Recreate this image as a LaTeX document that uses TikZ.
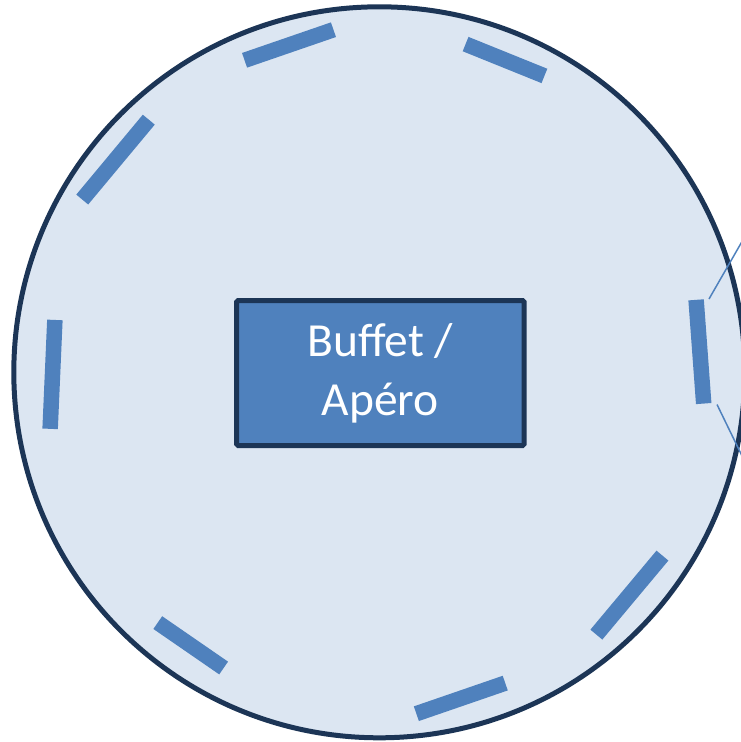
\documentclass[tikz,border=0pt]{standalone}
\usepackage{fontspec}
\setmainfont{Carlito}
\usepackage{tikz}
\definecolor{cnavy}{HTML}{1C3556}
\definecolor{cfloor}{HTML}{DCE6F2}
\definecolor{ctable}{HTML}{4F81BD}
\tikzset{
  tbl/.style={fill=ctable,minimum width=#1,minimum height=15.5pt,inner sep=0pt,outer sep=0pt},
  buffet/.style={fill=ctable,draw=cnavy,line width=5pt,rounded corners=1.5pt,minimum width=287.5pt,minimum height=145pt,
    align=center,text=white,font=\fontsize{47.5}{59}\selectfont},
  wire/.style={draw=ctable,line width=1.5pt}}

\begin{document}
\begin{tikzpicture}[x=1pt,y=-1pt]
\useasboundingbox (0,0) rectangle (741,742);
\clip (0,0) rectangle (741,742);

% ================= room =================
\fill[cfloor] (379.3,372.3) circle (365.5pt);
\draw[cnavy,line width=5pt] (379.3,372.3) circle (365.5pt);

% ================= tables round the wall =================
\node[tbl=94pt,rotate=19] (t1) at (289,45) {};
\node[tbl=85pt,rotate=-22] (t2) at (505,60) {};
\node[tbl=104pt,rotate=50.2] (t3) at (115.5,159.6) {};
\node[tbl=109pt,rotate=87.5] (t4) at (52.5,374.4) {};
\node[tbl=104pt,rotate=94.2] (t5) at (699.9,351.7) {};
\node[tbl=80pt,rotate=-34.6] (t6) at (190.7,645.3) {};
\node[tbl=94pt,rotate=19] (t7) at (460.8,698.4) {};
\node[tbl=103pt,rotate=50.1] (t8) at (629.4,595.1) {};

% lines leaving the right table
\coordinate (u1) at (709,299); \coordinate (u2) at (771,191);
\coordinate (d1) at (717,404.5); \coordinate (d2) at (762,497);
\draw[wire] (u1) -- (u2);
\draw[wire] (d1) -- (d2);

% ================= centre =================
\node[buffet] (bu) at (380.3,373) {Buffet /\\Apéro};

\end{tikzpicture}
\end{document}
